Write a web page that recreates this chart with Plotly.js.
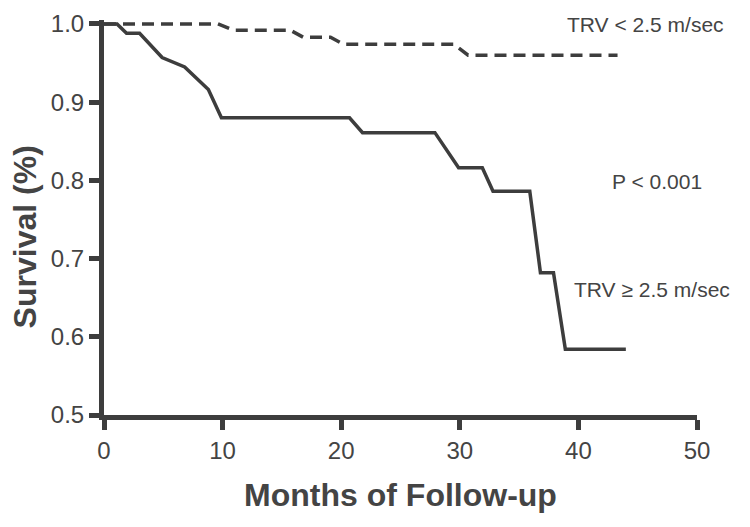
<!DOCTYPE html>
<html>
<head>
<meta charset="utf-8">
<script src="https://cdn.plot.ly/plotly-3.0.1.min.js"></script>
<style>
  html, body { margin: 0; padding: 0; background: white; }
  #chart { width: 750px; height: 527px; }
</style>
</head>
<body>
<div id="chart"></div>
<script>
// Kaplan-Meier survival by TRV group
const monthsHigh = [0, 1.1, 1.9, 3.0, 4.9, 6.8, 8.8, 9.9, 20.7, 21.8, 27.9, 29.9, 31.9, 32.8, 35.9, 36.8, 37.9, 38.9, 44];
const survHigh   = [1.0, 1.0, 0.988, 0.988, 0.957, 0.945, 0.916, 0.880, 0.880, 0.861, 0.861, 0.816, 0.816, 0.786, 0.786, 0.682, 0.682, 0.584, 0.584];

const monthsLow = [0, 9.6, 10.9, 15.7, 16.8, 19.1, 20.2, 29.5, 30.7, 43.3];
const survLow   = [1.0, 1.0, 0.992, 0.992, 0.983, 0.983, 0.974, 0.974, 0.960, 0.960];

const xTicks = [0, 10, 20, 30, 40, 50];
const yTicks = [0.5, 0.6, 0.7, 0.8, 0.9, 1.0];
const yTickText = ['0.5', '0.6', '0.7', '0.8', '0.9', '1.0'];

const INK = '#3d3d3d';
const TEXT = '#444444';
const FONT = { family: '"Liberation Sans", Arial, sans-serif', color: TEXT, size: 24 };

const traces = [
    { x: monthsLow, y: survLow, mode: 'lines',
      line: { color: INK, width: 3.5, dash: '12px,7px' }, hoverinfo: 'skip' },
    { x: monthsHigh, y: survHigh, mode: 'lines',
      line: { color: INK, width: 3.5 }, hoverinfo: 'skip' },
];

const axisBase = {
    showgrid: false, zeroline: false,
    showline: true, linecolor: INK, linewidth: 5,
    ticks: 'outside', ticklen: 10, tickwidth: 5, tickcolor: INK,
    tickfont: { ...FONT, size: 24 },
    fixedrange: true,
};

const note = (text, x, y) => ({
    text, x, y, xref: 'x', yref: 'y', showarrow: false,
    xanchor: 'left', yanchor: 'middle',
    font: { ...FONT, size: 21 },
});

const layout = {
    width: 750, height: 527,
    paper_bgcolor: 'white', plot_bgcolor: 'white',
    font: FONT,
    showlegend: false,
    margin: { l: 104, r: 53, t: 20, b: 112 },
    xaxis: { ...axisBase, range: [0, 50], tickvals: xTicks,
             title: { text: 'Months of Follow-up', standoff: 22,
                      font: { ...FONT, size: 32, weight: 'bold' } } },
    yaxis: { ...axisBase, range: [0.5, 1.005], tickvals: yTicks, ticktext: yTickText },
    annotations: [
        note('TRV &lt; 2.5 m/sec', 38.9, 0.999),
        note('P &lt; 0.001', 42.7, 0.798),
        note('TRV ≥ 2.5 m/sec', 39.5, 0.660),
        // y axis title, set a bit below the plot centre as in the figure
        { text: 'Survival (%)', xref: 'paper', yref: 'paper', x: -0.133, y: 0.45,
          textangle: -90, showarrow: false, xanchor: 'center', yanchor: 'middle',
          font: { ...FONT, size: 32, weight: 'bold' } },
    ],
};

Plotly.newPlot('chart', traces, layout, { displayModeBar: false, staticPlot: true });
</script>
</body>
</html>
